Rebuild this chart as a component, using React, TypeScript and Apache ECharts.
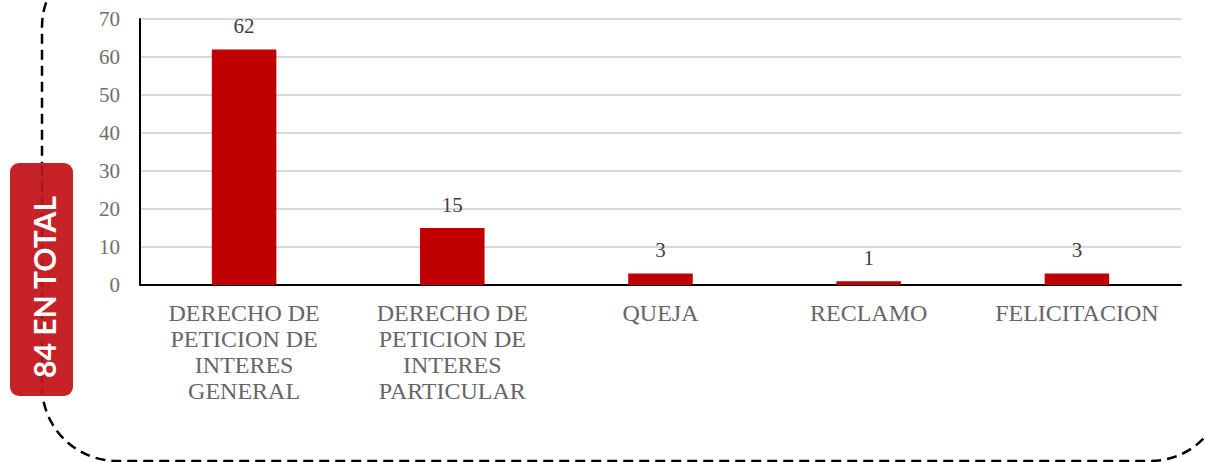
import React, { useEffect, useRef } from "react";
import * as echarts from "echarts";

const categories = [
  "DERECHO DE\nPETICION DE\nINTERES\nGENERAL",
  "DERECHO DE\nPETICION DE\nINTERES\nPARTICULAR",
  "QUEJA",
  "RECLAMO",
  "FELICITACION",
];
const values = [62, 15, 3, 1, 3];
const totalLabel = "84 EN TOTAL";
const yMin = 0;
const yMax = 70;
const yInterval = 10;

export default function App() {
  const ref = useRef<HTMLDivElement>(null);
  useEffect(() => {
    if (!ref.current) return;
    const chart = echarts.init(ref.current, null, { renderer: "svg" });
    chart.setOption({
      animation: false,
      backgroundColor: "#ffffff",
      grid: { left: 140, right: 24, top: 19, bottom: 177, containLabel: false },
      xAxis: {
        type: "category",
        data: categories,
        axisLine: { show: true, lineStyle: { color: "#000000", width: 2 } },
        axisTick: { show: false },
        axisLabel: {
          interval: 0,
          color: "#666666",
          fontFamily: "Liberation Serif",
          fontSize: 24,
          lineHeight: 26,
          margin: 15,
        },
      },
      yAxis: {
        type: "value",
        min: yMin,
        max: yMax,
        interval: yInterval,
        axisLine: { show: true, lineStyle: { color: "#000000", width: 2 } },
        axisTick: { show: false },
        splitLine: { show: true, lineStyle: { color: "#d9d9d9", width: 2 } },
        axisLabel: {
          color: "#6e6e6e",
          fontFamily: "Liberation Serif",
          fontSize: 21,
          margin: 20,
        },
      },
      series: [
        {
          type: "bar",
          data: values,
          barWidth: "31%",
          itemStyle: { color: "#c00000" },
          label: {
            show: true,
            position: "top",
            distance: 13,
            color: "#404040",
            fontFamily: "Liberation Serif",
            fontSize: 21,
          },
        },
      ],
      graphic: [
        {
          type: "rect",
          z: 1,
          silent: true,
          shape: { x: 42, y: -48, width: 1183, height: 509, r: 75 },
          style: { fill: "none", stroke: "#000000", lineWidth: 2.5, lineDash: [10, 6] },
        },
        {
          type: "rect",
          z: 10,
          silent: true,
          shape: { x: 10, y: 163, width: 63, height: 233, r: 9 },
          style: { fill: "#c62228" },
        },
        {
          type: "line",
          z: 11,
          silent: true,
          shape: { x1: 42, y1: 165, x2: 42, y2: 394 },
          style: { stroke: "#a0191e", lineWidth: 2.5, lineDash: [10, 6] },
        },
        {
          type: "text",
          z: 12,
          silent: true,
          x: 44,
          y: 287,
          rotation: Math.PI / 2,
          style: {
            text: totalLabel,
            fill: "#ffffff",
            font: "bold 30px Lato",
            align: "center",
            verticalAlign: "middle",
          },
        },
      ],
    });
    return () => chart.dispose();
  }, []);
  return (
    <div
      ref={ref}
      style={{ position: "fixed", left: 0, top: 0, width: 1205, height: 462 }}
    />
  );
}
